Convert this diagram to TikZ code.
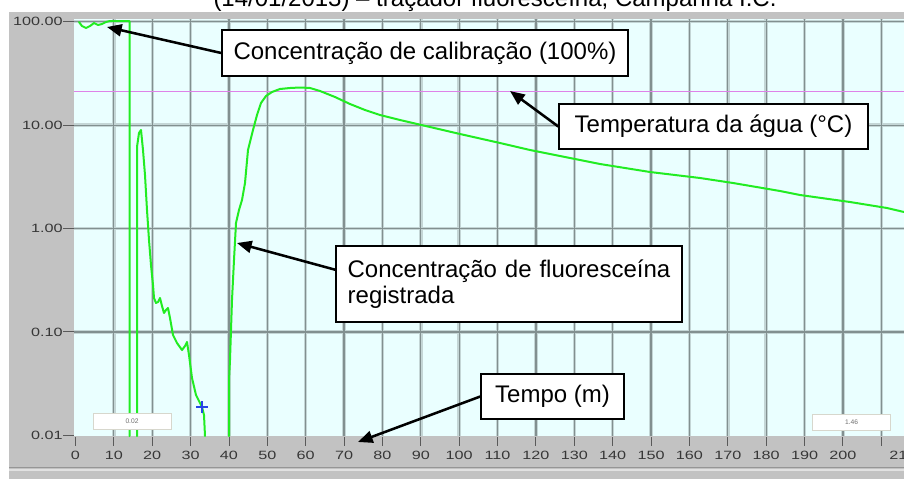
\documentclass[tikz,border=0pt]{standalone}
\usepackage{fontspec}
\setmainfont{Liberation Sans}
\usepackage{graphicx}
\usetikzlibrary{arrows.meta,calc}
\definecolor{plotbg}{RGB}{234,255,255}
\definecolor{framec}{RGB}{194,194,194}
\definecolor{gridcore}{RGB}{130,144,144}
\definecolor{gridhalo}{RGB}{196,214,214}
\definecolor{curvec}{RGB}{34,236,34}
\definecolor{tempc}{RGB}{222,130,232}
\definecolor{ticklabc}{RGB}{55,55,55}
\definecolor{crossc}{RGB}{40,70,230}
\definecolor{sepdark}{RGB}{150,150,150}
\definecolor{seplight}{RGB}{225,225,225}
\definecolor{tickc}{RGB}{90,90,90}
\definecolor{sbborder}{RGB}{215,215,205}
\definecolor{sbtext}{RGB}{110,110,110}
\newcommand\tklab[1]{\scalebox{1.35}[1]{\fontsize{9}{10}\selectfont #1}}
\begin{document}
\begin{tikzpicture}[x=0.75pt,y=-0.75pt,
  ann/.style={draw=black, line width=1.1pt, fill=white, inner sep=0pt,
    font=\fontsize{18}{19.5}\selectfont, align=center},
  arr/.style={line width=1.9pt, -{Triangle[length=11pt,width=9pt]}},
  curve/.style={draw=curvec, line width=1.5pt, line join=round, line cap=round},
  halo/.style={draw=gridhalo, line width=2.6pt},
  core/.style={draw=gridcore, line width=0.9pt},
  ticklab/.style={text=ticklabc, inner sep=0pt},
  tickline/.style={draw=tickc, line width=0.7pt},
  smallbox/.style={draw=sbborder, fill=white, line width=0.6pt,
    minimum width=58.5pt, minimum height=12pt, inner sep=0pt,
    font=\fontsize{5}{6}\selectfont, text=sbtext}]
\useasboundingbox (0,0) rectangle (904,479);
\clip (0,0) rectangle (904,479);
\fill[white] (0,0) rectangle (904,479);
% title (cut at top)
\node[anchor=base, font=\fontsize{18}{20}\selectfont, inner sep=0pt] (title) at (495,6)
  {(14/01/2013) – traçador fluoresceína, Campanha I.C.};
% frame
\fill[framec] (9,12) rectangle (904,479);
\draw[sepdark, line width=0.8pt] (9,467.5) -- (904,467.5);
\draw[seplight, line width=0.8pt] (9,470) -- (904,470);
\fill[plotbg] (74,19) rectangle (904,436);
% grid
\foreach \t in {10,20,...,210} {
  \draw[halo] ({75.5+3.837*\t},19) -- ({75.5+3.837*\t},436);
}
\foreach \k in {0,1,2,3} {
  \draw[halo] (74,{21.7+103.4*\k}) -- (904,{21.7+103.4*\k});
}
\foreach \t in {10,20,...,210} {
  \draw[core] ({75.5+3.837*\t},19) -- ({75.5+3.837*\t},436);
}
\foreach \k in {0,1,2,3} {
  \draw[core] (74,{21.7+103.4*\k}) -- (904,{21.7+103.4*\k});
}
% temperature line
\draw[tempc, line width=1.2pt] (74,91.5) -- (904,91.5);
% curves
\draw[curve] (79,22) -- (82,26) -- (86,28) -- (90,26) -- (94,23) -- (98,25) -- (102,24)
  -- (106,22) -- (110,21) -- (129.5,21) -- (129.5,436);
\draw[curve] (137,436) -- (137,147) -- (139,133) -- (141,130) -- (143,150) -- (145,175)
  -- (147,210) -- (149,240) -- (151,265) -- (153,285) -- (154,298) -- (156,303)
  -- (158,302) -- (160,298) -- (162,306) -- (164,313) -- (166,310) -- (168,308)
  -- (170,318) -- (173,335) -- (177,343) -- (182,350) -- (185,346) -- (187,342)
  -- (189,355) -- (192,378) -- (196,395) -- (202,407) -- (204,415) -- (205,436);
\draw[curve] (229,436) -- (229,380) -- (230,360) -- (232,300) -- (234,260) -- (236,223)
  -- (239,210) -- (242,200) -- (245,183) -- (248,150) -- (253,130) -- (257,115)
  -- (261,103) -- (266,96) -- (272,92) -- (280,89) -- (290,88) -- (300,87.5)
  -- (310,88) -- (320,91) -- (335,97) -- (350,104) -- (365,110) -- (380,115)
  -- (400,120) -- (430,127) -- (460,134) -- (500,143) -- (530,150) -- (560,156)
  -- (600,164) -- (650,172) -- (700,178) -- (733,183) -- (780,191) -- (800,195)
  -- (850,202) -- (887,208) -- (904,212);
% blue cross
\draw[crossc, line width=0.8pt] (196,407) -- (208,407) (202,401) -- (202,413);
% small value boxes
\node[smallbox] (v1) at (132,421) {0.02};
\node[smallbox] (v2) at (851.5,422) {1.46};
% axis ticks and labels
\foreach \t in {0,10,...,210} {
  \draw[tickline] ({75.5+3.837*\t},437) -- ({75.5+3.837*\t},446);
}
\foreach \t in {0,10,...,200} {
  \node[ticklab] (xl\t) at ({75.5+3.837*\t},455) {\tklab{\t}};
}
\node[ticklab, anchor=west] (xl210) at (889,455) {\tklab{210}};
\foreach \k/\lab in {0/100.00,1/10.00,2/1.00,3/0.10,4/0.01} {
  \draw[tickline] (63,{21.7+103.4*\k}) -- (74,{21.7+103.4*\k});
  \node[ticklab, anchor=east] (yl\k) at (63,{21.7+103.4*\k}) {\tklab{\lab}};
}
% annotations
\node[ann, minimum width=304.5pt, minimum height=34.5pt] (b1) at (425,53)
  {Concentração de calibração (100\%)};
\node[ann, minimum width=231.75pt, minimum height=33.75pt] (b2) at (713.5,126.5)
  {Temperatura da água (°C)};
\node[ann, minimum width=259.5pt, minimum height=57pt, align=left] (b3) at (509,284)
  {\makebox[242pt][s]{Concentração de fluoresceína}\\registrada};
\node[ann, minimum width=107.25pt, minimum height=33.75pt] (b4) at (552.5,396.5)
  {Tempo (m)};
\coordinate (c1) at (107,27);
\coordinate (c2) at (510,91);
\coordinate (c3) at (237,243);
\coordinate (c4) at (358,442);
\draw[arr] (b1.west) -- (c1);
\draw[arr] (b2.west) -- (c2);
\draw[arr] ($(b3.north west)!0.316!(b3.south west)$) -- (c3);
\draw[arr] (b4.west) -- (c4);
\end{tikzpicture}
\end{document}
